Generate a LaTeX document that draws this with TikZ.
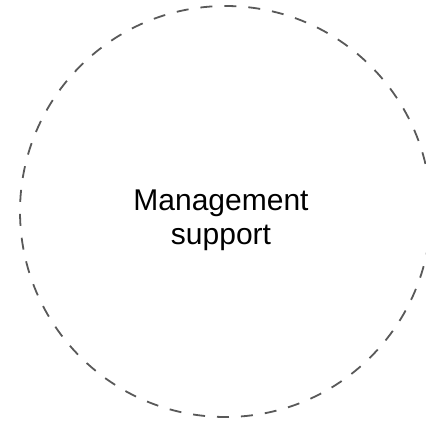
\documentclass[tikz,border=0pt]{standalone}
\usepackage{fontspec}
\setmainfont{Liberation Sans}
\definecolor{ringgray}{HTML}{595959}
\begin{document}
\begin{tikzpicture}[x=1pt,y=-1pt]
		\useasboundingbox (0,0) rectangle (426,422);
		\node[draw=ringgray, circle, line width=1.8pt, dash pattern=on 12pt off 12pt, minimum size=411pt, inner sep=0pt] (ring) at (225.5, 211.5) {};
		\node[align=center, font=\fontsize{30}{34}\selectfont, text=black] (label) at (221, 220) {Management\\support};
	\end{tikzpicture}
\end{document}
